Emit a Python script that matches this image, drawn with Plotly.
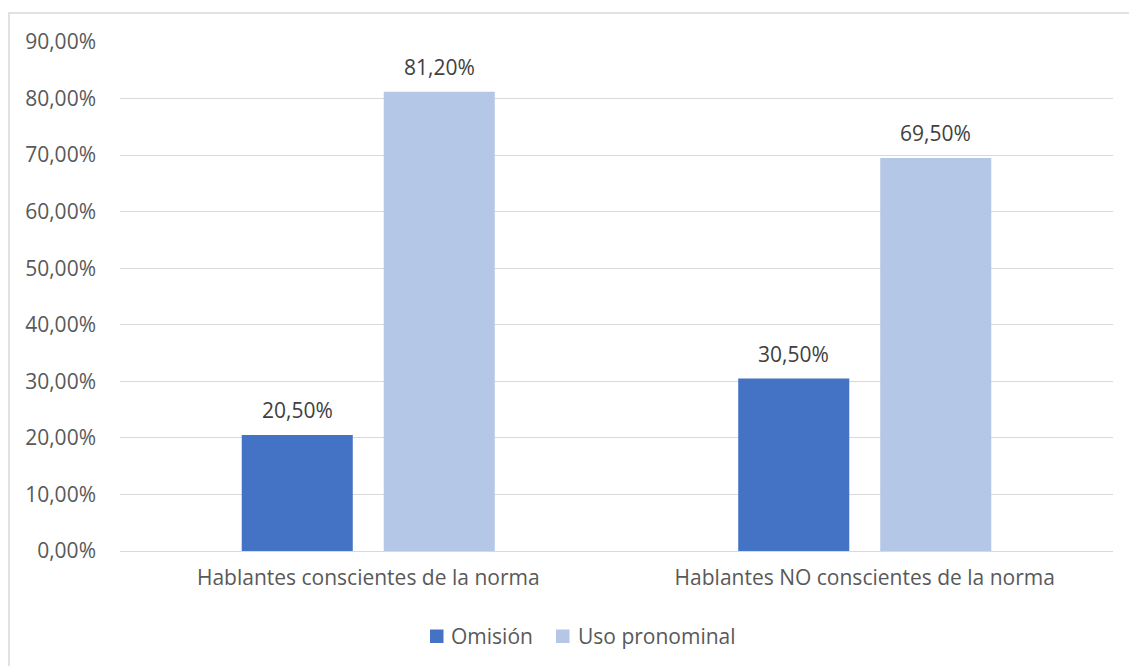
import plotly.graph_objects as go

categories = ["Hablantes conscientes de la norma", "Hablantes NO conscientes de la norma"]
series_names = ["Omisión", "Uso pronominal"]
omision = [0.205, 0.305]
uso_pronominal = [0.812, 0.695]
y_ticks = [0, 0.1, 0.2, 0.3, 0.4, 0.5, 0.6, 0.7, 0.8, 0.9]

FONT = "Open Sans"
SIZE = 21
AXIS_GREY = "#595959"
LABEL_GREY = "#404040"
COLORS = ["#4472C4", "#B4C7E7"]

fig = go.Figure()
for name, values, color in zip(series_names, [omision, uso_pronominal], COLORS):
    fig.add_trace(go.Bar(
        name=name, x=categories, y=values,
        marker=dict(color=color, line=dict(width=0)),
        showlegend=False,
    ))

# value labels above each bar (offset to the bar's slot within the group)
offsets = [-0.143, 0.143]
for values, off in zip([omision, uso_pronominal], offsets):
    for i, v in enumerate(values):
        fig.add_annotation(
            x=i + off, y=v, xref="x", yref="y",
            text=f"{v * 100:.2f}%".replace(".", ","),
            showarrow=False, yshift=25, yanchor="middle",
            font=dict(family=FONT, size=SIZE, color=LABEL_GREY),
        )

# legend drawn as swatches + text below the plot
PW, PH = 993.0, 509.0  # plot area in px
def px_x(x):
    return (x - 120) / PW
def px_y(y):
    return (551 - y) / PH

legend_items = [(430, 449, series_names[0], COLORS[0]), (556, 576, series_names[1], COLORS[1])]
shapes = [dict(type="rect", xref="paper", yref="paper",
               x0=-0.1118, x1=1.2, y0=-0.4, y1=1.057,
               line=dict(color="#D9D9D9", width=1.5), fillcolor="rgba(0,0,0,0)", layer="below")]
for sx, tx, name, color in legend_items:
    shapes.append(dict(type="rect", xref="paper", yref="paper",
                       x0=px_x(sx), x1=px_x(sx + 13.5), y0=px_y(643), y1=px_y(629.5),
                       line=dict(width=0), fillcolor=color))
    fig.add_annotation(x=px_x(tx), y=px_y(636), xref="paper", yref="paper",
                       xanchor="left", yanchor="middle", showarrow=False, text=name,
                       font=dict(family=FONT, size=SIZE, color=AXIS_GREY))

fig.update_layout(
    width=1129, height=666,
    margin=dict(l=120, r=16, t=42, b=115, autoexpand=False),
    paper_bgcolor="white", plot_bgcolor="white",
    separators=",.",
    barmode="group", bargap=0.428, bargroupgap=0.218,
    font=dict(family=FONT, color=AXIS_GREY, size=SIZE),
    showlegend=False,
    xaxis=dict(showgrid=False, showline=False, ticks="", automargin=False,
               tickfont=dict(size=SIZE, color=AXIS_GREY), ticklabelstandoff=12),
    yaxis=dict(range=[0, 0.9], tickvals=y_ticks, tickformat=".2%", automargin=False,
               showgrid=True, gridcolor="#D9D9D9", gridwidth=1,
               zeroline=True, zerolinecolor="#D9D9D9", zerolinewidth=1,
               showline=False, ticks="", tickfont=dict(size=SIZE, color=AXIS_GREY),
               ticklabelstandoff=23),
    shapes=shapes,
)

fig.write_html("out.html")
